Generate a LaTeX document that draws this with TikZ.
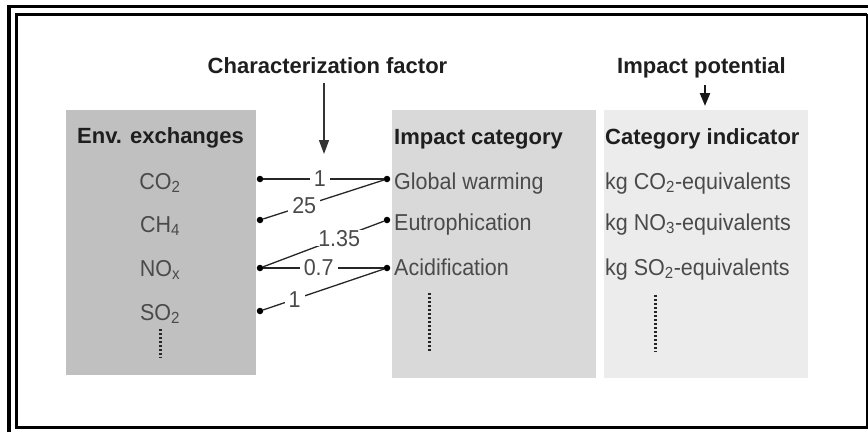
\documentclass[tikz,border=0pt]{standalone}
\usepackage{fontspec}
\usepackage{graphicx}
\setmainfont{Liberation Sans}
\usetikzlibrary{arrows.meta}
\definecolor{boxA}{HTML}{C0C0C0}
\definecolor{boxB}{HTML}{D9D9D9}
\definecolor{boxC}{HTML}{ECECEC}
\definecolor{txtc}{HTML}{4A4A4A}
\definecolor{hdrc}{HTML}{1E1E1E}
\newcommand\vtx[1]{\scalebox{1}[1.07]{#1}}
\begin{document}
\begin{tikzpicture}[x=1pt,y=-1pt,
  hdr/.style={font=\fontsize{22}{26}\selectfont\bfseries, text=hdrc, inner sep=0pt},
  txtn/.style={font=\fontsize{21.5}{25}\selectfont, text=txtc, inner sep=0pt},
  colbox/.style={anchor=north west, inner sep=0pt, draw=none},
  dotn/.style={circle, fill=black, inner sep=0pt, minimum size=6.5pt},
  conn/.style={line width=1.3pt, draw=black!85},
  lbl/.style={fill=white, font=\fontsize{21.5}{25}\selectfont, text=txtc, inner xsep=4pt, inner ysep=0pt},
  dotline/.style={line width=3pt, dash pattern=on 2pt off 2pt, draw=black!85},
  bigarrow/.style={line width=1.5pt, draw=black!80, -{Triangle[width=10pt,length=14pt]}},
  smallarrow/.style={line width=2.2pt, draw=black!90, -{Triangle[width=10pt,length=13pt]}}
]
\useasboundingbox (0,0) rectangle (868,432);
\fill[white] (0,0) rectangle (868,432);
% frame
\draw[line width=3.5pt] (9,432) -- (9,6.5) -- (868,6.5);
\draw[line width=3pt] (867,14.3) -- (16.7,14.3) -- (16.7,427) -- (868,427);
\draw[line width=1.6pt] (867,14.3) -- (867,427);
% boxes
\node[colbox, fill=boxA, minimum width=190pt, minimum height=265pt] (benv) at (66,110) {};
\node[colbox, fill=boxB, minimum width=204.5pt, minimum height=268pt] (bcat) at (391.5,110) {};
\node[colbox, fill=boxC, minimum width=204.5pt, minimum height=268pt] (bind) at (603.5,110) {};
% top labels
\node[hdr, anchor=base] (cf) at (327.5,73) {Characterization factor};
\node[hdr, anchor=base] (ip) at (701.5,73) {Impact potential};
\coordinate (cfS) at (324,83);
\coordinate (cfT) at (324,154);
\draw[bigarrow] (cfS) -- (cfT);
\coordinate (ipS) at (705,85);
\coordinate (ipT) at (705,106);
\draw[smallarrow] (ipS) -- (ipT);
% headers
\node[hdr, anchor=base] (henv) at (160.5,143) {Env. exchanges};
\node[hdr, anchor=base west] (hcat) at (394,144) {Impact category};
\node[hdr, anchor=base west] (hind) at (605,144) {Category indicator};
% left column
\node[txtn, anchor=base] (co2) at (160,189) {\vtx{CO\textsubscript{2}}};
\node[txtn, anchor=base] (ch4) at (160,232) {\vtx{CH\textsubscript{4}}};
\node[txtn, anchor=base] (nox) at (160,276) {\vtx{NO\textsubscript{x}}};
\node[txtn, anchor=base] (so2) at (160,320) {\vtx{SO\textsubscript{2}}};
\draw[dotline] (160.5,329) -- (160.5,358);
% middle column
\node[txtn, anchor=base west] (gw) at (394,189) {\vtx{Global warming}};
\node[txtn, anchor=base west] (eu) at (394,230) {\vtx{Eutrophication}};
\node[txtn, anchor=base west] (ac) at (394,275) {\vtx{Acidification}};
\draw[dotline] (429,293) -- (429,352);
% right column
\node[txtn, anchor=base west] (kco) at (605,189) {\vtx{kg CO\textsubscript{2}-equivalents}};
\node[txtn, anchor=base west] (kno) at (605,230) {\vtx{kg NO\textsubscript{3}-equivalents}};
\node[txtn, anchor=base west] (kso) at (605,275) {\vtx{kg SO\textsubscript{2}-equivalents}};
\draw[dotline] (655,295) -- (655,352);
% dots
\node[dotn] (l1) at (260,179) {};
\node[dotn] (l2) at (260,220) {};
\node[dotn] (l3) at (260,268) {};
\node[dotn] (l4) at (260,311) {};
\node[dotn] (r1) at (387,179) {};
\node[dotn] (r2) at (387,220) {};
\node[dotn] (r3) at (387,268) {};
% connectors
\draw[conn] (l1) -- node[lbl, pos=0.47] {\vtx{1}} (r1);
\draw[conn] (l2) -- node[lbl, pos=0.34] {\vtx{25}} (r1);
\draw[conn] (l3) -- node[lbl, pos=0.63] {\vtx{1.35}} (r2);
\draw[conn] (l3) -- node[lbl, pos=0.46] {\vtx{0.7}} (r3);
\draw[conn] (l4) -- node[lbl, pos=0.26] {\vtx{1}} (r3);
\end{tikzpicture}
\end{document}
